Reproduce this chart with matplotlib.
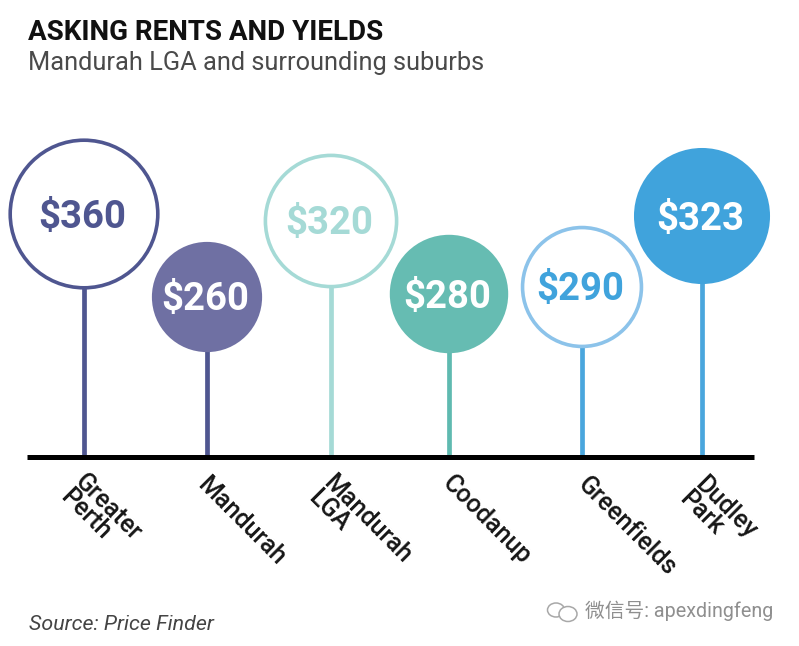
import matplotlib
matplotlib.use("Agg")
import matplotlib.pyplot as plt
from matplotlib.patches import Circle, Ellipse

plt.rcParams['font.family'] = ['Roboto', 'Noto Sans CJK SC', 'DejaVu Sans']

categories = ["Greater\nPerth", "Mandurah", "Mandurah\nLGA", "Coodanup", "Greenfields", "Dudley\nPark"]
rents = [360, 260, 320, 280, 290, 323]
filled = [False, True, False, True, False, True]

# layout and style, in reference pixels
stem_x = [84, 207, 331, 449, 582, 702]
center_y = [214, 297, 221, 294, 287, 216]
radius_per_dollar = 0.205
colors = ["#4f5690", "#6f70a3", "#a5dad6", "#66bcb2", "#8cc3ea", "#40a3dc"]
stem_colors = ["#4f5690", "#4f5690", "#a5dad6", "#5fbab0", "#4aa6dd", "#4aa6dd"]
text_colors = ["#4f5690", "white", "#a5dad6", "white", "#40a3dc", "white"]
label_anchor = [(101, 515), (241, 521), (360, 527), (487, 520), (627, 526), (718, 515)]
base_y = 457

fig = plt.figure(figsize=(7.99, 6.46), dpi=100, facecolor="white")
ax = fig.add_axes([0, 0, 1, 1])
ax.set_xlim(0, 799)
ax.set_ylim(646, 0)
ax.axis("off")

for x, cy, v, f, c, sc, tc, cat, (lx, ly) in zip(stem_x, center_y, rents, filled, colors,
                                                 stem_colors, text_colors, categories, label_anchor):
    r = v * radius_per_dollar
    ax.plot([x, x], [cy + r - 1, base_y], color=sc, lw=3.4, solid_capstyle="butt", zorder=1)
    ax.add_patch(Circle((x, cy), r, facecolor=c if f else "white",
                        edgecolor=c, lw=2.6, zorder=2))
    ax.text(x - 1.5, cy + 3, f"${v}", color=tc, fontsize=27.5, fontweight="bold",
            ha="center", va="center", zorder=3)
    ax.text(lx, ly, cat, rotation=-45, rotation_mode="anchor", ha="center", va="center",
            ma="left", fontsize=18, fontweight="medium", color="#161616", linespacing=0.85)

ax.plot([27, 754], [457, 457], color="black", lw=3.6, solid_capstyle="butt", zorder=4)

ax.text(28, 32, "ASKING RENTS AND YIELDS", fontsize=20, fontweight="bold",
        color="#111111", ha="left", va="center")
ax.text(28, 63, "Mandurah LGA and surrounding suburbs", fontsize=18.3,
        color="#4a4a4a", ha="left", va="center")
ax.text(29, 625, "Source: Price Finder", fontsize=15.4, fontstyle="italic",
        color="#444444", ha="left", va="center")

# watermark
wm = "#a8a8a8"
ax.add_patch(Ellipse((556, 610), 17, 14, facecolor="none", edgecolor=wm, lw=1.1))
ax.add_patch(Ellipse((568, 614), 18, 15, facecolor="white", edgecolor=wm, lw=1.1))
ax.text(585, 611, "微信号: apexdingfeng", fontsize=14.2, color="#8f8f8f",
        ha="left", va="center")

fig.savefig("out.png", dpi=100, facecolor="white")
